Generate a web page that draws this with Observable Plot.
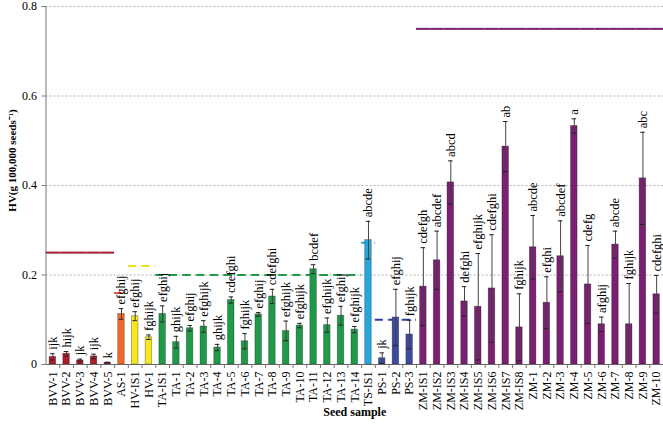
<!DOCTYPE html>
<html>
<head>
<meta charset="utf-8">
<script src="https://cdn.jsdelivr.net/npm/d3@7"></script>
<script src="https://cdn.jsdelivr.net/npm/@observablehq/plot@0.6"></script>
<style>
  body { margin: 0; background: white; }
</style>
</head>
<body>
<div id="chart"></div>
<script>
const categories = ["BVV-1","BVV-2","BVV-3","BVV-4","BVV-5","AS-1","HV-IS1","HV-1",
  "TA-IS1","TA-1","TA-2","TA-3","TA-4","TA-5","TA-6","TA-7","TA-8","TA-9","TA-10","TA-11","TA-12","TA-13","TA-14",
  "TS-IS1","PS-1","PS-2","PS-3",
  "ZM-IS1","ZM-IS2","ZM-IS3","ZM-IS4","ZM-IS5","ZM-IS6","ZM-IS7","ZM-IS8",
  "ZM-1","ZM-2","ZM-3","ZM-4","ZM-5","ZM-6","ZM-7","ZM-8","ZM-9","ZM-10"];
const groups = ["BVV","BVV","BVV","BVV","BVV","AS","HV","HV",
  "TA","TA","TA","TA","TA","TA","TA","TA","TA","TA","TA","TA","TA","TA","TA",
  "TS","PS","PS","PS",
  "ZM","ZM","ZM","ZM","ZM","ZM","ZM","ZM",
  "ZM","ZM","ZM","ZM","ZM","ZM","ZM","ZM","ZM","ZM"];
const values = [0.017,0.024,0.009,0.018,0.004,0.113,0.108,0.061,
  0.113,0.050,0.081,0.085,0.038,0.144,0.052,0.112,0.152,0.075,0.087,0.213,0.088,0.109,0.078,
  0.278,0.014,0.105,0.067,
  0.174,0.233,0.407,0.141,0.129,0.170,0.487,0.083,
  0.262,0.138,0.242,0.533,0.179,0.090,0.268,0.090,0.416,0.157];
const errors = [0.007,0.005,0.003,0.005,0.001,0.012,0.010,0.005,
  0.018,0.013,0.006,0.013,0.007,0.007,0.017,0.004,0.016,0.022,0.005,0.010,0.016,0.021,0.007,
  0.042,0.012,0.063,0.032,
  0.087,0.065,0.048,0.033,0.119,0.120,0.056,0.075,
  0.071,0.058,0.079,0.016,0.087,0.016,0.030,0.091,0.103,0.042];
const letters = ["ijk","hijk","jk","ijk","k","efghij","efghij","fghijk",
  "efghij","ghijk","efghij","efghijk","ghijk","cdefghi","fghijk","efghij","cdefghi","efghijk","efghijk","bcdef","efghijk","efghij","efghijk",
  "abcde","jk","efghij","fghijk",
  "cdefgh","abcdef","abcd","defghi","efghijk","cdefghi","ab","fghijk",
  "abcde","efghi","abcdef","a","cdefg","afghij","abcde","fghijk","abc","cdefghi"];

const groupNames = ["BVV","AS","HV","TA","TS","PS","ZM"];
const groupColors = ["#b01c2e","#ee6a28","#f5e81c","#1f9a48","#27a6dc","#3c4aa0","#7b1f73"];
const refValues = [0.25,0.16,0.22,0.20,0.272,0.10,0.75];
const refColors = ["#a3202c","#e2553c","#f0e21a","#1f9a48","#27a6dc","#2c3c9a","#7b1f73"];
const refDashed = [false,true,true,true,true,true,false];
const yTicks = [0,0.2,0.4,0.6,0.8];

const rows = categories.map((c,i) => {
  const g = groupNames.indexOf(groups[i]);
  return {cat:c, value:values[i], err:errors[i], letter:letters[i],
          color:groupColors[g], ref:refValues[g], refColor:refColors[g], dashed:refDashed[g]};
});

const W = 663, H = 424, ML = 45.5, MR = 0, MT = 6, MB = 60;
const bw = (W - ML - MR) / categories.length;

const plot = Plot.plot({
  width: W, height: H,
  marginLeft: ML, marginRight: MR, marginTop: MT, marginBottom: MB,
  style: {fontFamily: "Liberation Serif", fontSize: "12px", background: "white", color: "#000"},
  x: {domain: categories, padding: 0, label: null},
  y: {domain: [0, 0.8], label: null},
  marks: [
    Plot.ruleY(yTicks.filter(d => d > 0), {stroke: "#b0b0b0", strokeDasharray: "2,2"}),
    Plot.tickY(rows.filter(d => !d.dashed), {x: "cat", y: "ref", stroke: "refColor", strokeWidth: 2}),
    Plot.tickY(rows.filter(d => d.dashed), {x: "cat", y: "ref", stroke: "refColor", strokeWidth: 2, strokeDasharray: "8,5"}),
    Plot.barY(rows, {x: "cat", y: "value", fill: "color", stroke: "#000", strokeOpacity: 0.35, strokeWidth: 0.8, insetLeft: 3.6, insetRight: 3.6}),
    Plot.ruleX(rows, {x: "cat", y1: d => Math.max(0, d.value - d.err), y2: d => d.value + d.err, stroke: "#444", strokeWidth: 1}),
    Plot.tickY(rows, {x: "cat", y: d => d.value + d.err, stroke: "#222", insetLeft: 4.6, insetRight: 4.6}),
    Plot.tickY(rows, {x: "cat", y: d => Math.max(0, d.value - d.err), stroke: "#222", insetLeft: 4.6, insetRight: 4.6}),
    Plot.text(rows, {x: "cat", y: d => d.value + d.err, text: "letter", rotate: -90, textAnchor: "start", dy: -4, fontSize: 12.5, fill: "#000"}),
    Plot.ruleY([0], {stroke: "#666"}),
    Plot.ruleX([categories[0]], {dx: -bw / 2, y1: 0, y2: 0.8, stroke: "#777"}),
    Plot.ruleX(categories, {x: d => d, dx: bw / 2, y1: 0, y2: -0.009, stroke: "#777"}),
    Plot.axisX({tickSize: 0, tickRotate: -90, tickPadding: 7, fontSize: 12, label: null}),
    Plot.axisY({ticks: yTicks, tickFormat: d => d === 0 ? "0" : d.toFixed(1), tickSize: 4, fontSize: 12, label: null, stroke: "#777"}),
    Plot.text(["HV(g 100,000 seeds\u207B\u00B9)"], {text: d => d, frameAnchor: "left", textAnchor: "middle", rotate: -90, dx: -33.5, dy: -25, fontWeight: "bold", fontSize: 11}),
    Plot.text(["Seed sample"], {text: d => d, frameAnchor: "bottom", dy: 51, fontWeight: "bold", fontSize: 12})
  ]
});
document.getElementById("chart").appendChild(plot);
</script>
</body>
</html>
